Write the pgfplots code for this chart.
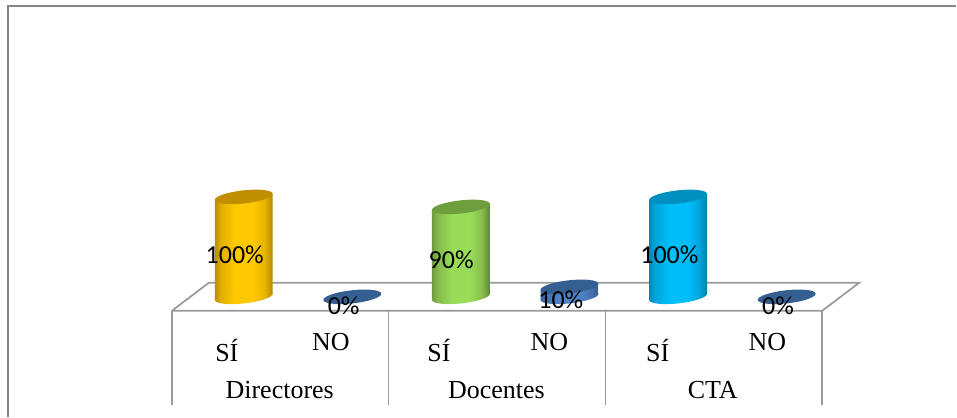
\documentclass[border=0pt]{standalone}
\usepackage{pgfplots}
\pgfplotsset{compat=1.18}
\usepackage{fontspec}
\setmainfont{Liberation Serif}
\newfontfamily\lab{Carlito}
\definecolor{framegray}{HTML}{868686}
\definecolor{floorgray}{HTML}{9A9A9A}
\definecolor{ga}{HTML}{B98F00}\definecolor{gb}{HTML}{E0AE00}\definecolor{gc}{HTML}{FFC800}\definecolor{gd}{HTML}{E8B400}\definecolor{ge}{HTML}{B08800}\definecolor{gt}{HTML}{C08F00}
\definecolor{va}{HTML}{6F9A3E}\definecolor{vb}{HTML}{84BA4A}\definecolor{vc}{HTML}{98DC58}\definecolor{vd}{HTML}{86BE4C}\definecolor{ve}{HTML}{5F8535}\definecolor{vt}{HTML}{6F9E3F}
\definecolor{ca}{HTML}{0088B8}\definecolor{cb}{HTML}{00A4DA}\definecolor{cc}{HTML}{00BEFA}\definecolor{cd}{HTML}{00A6DC}\definecolor{ce}{HTML}{0080AC}\definecolor{ct}{HTML}{008FBF}
\definecolor{ba}{HTML}{3A6296}\definecolor{bb}{HTML}{4474AE}\definecolor{bc}{HTML}{4F84C6}\definecolor{bd}{HTML}{4474AE}\definecolor{be}{HTML}{365B8C}\definecolor{bt}{HTML}{365F91}
\pgfdeclarehorizontalshading{goldsh}{100bp}{color(0bp)=(ga);color(25bp)=(ga);color(30bp)=(gb);color(42bp)=(gc);color(58bp)=(gc);color(68bp)=(gd);color(75bp)=(ge);color(100bp)=(ge)}
\pgfdeclarehorizontalshading{greensh}{100bp}{color(0bp)=(va);color(25bp)=(va);color(30bp)=(vb);color(42bp)=(vc);color(58bp)=(vc);color(68bp)=(vd);color(75bp)=(ve);color(100bp)=(ve)}
\pgfdeclarehorizontalshading{cyansh}{100bp}{color(0bp)=(ca);color(25bp)=(ca);color(30bp)=(cb);color(42bp)=(cc);color(58bp)=(cc);color(68bp)=(cd);color(75bp)=(ce);color(100bp)=(ce)}
\pgfdeclarehorizontalshading{bluesh}{100bp}{color(0bp)=(ba);color(25bp)=(ba);color(30bp)=(bb);color(42bp)=(bc);color(58bp)=(bc);color(68bp)=(bd);color(75bp)=(be);color(100bp)=(be)}
\newcommand\cylell[1]{\pgfpathellipse{\pgfpointorigin}{\pgfpoint{21.75pt}{2.4pt}}{\pgfpoint{-0.5pt}{4.9pt}}\pgfshadepath{#1}{0}\pgfusepath{discard}}
\pgfdeclareplotmark{botgold}{\cylell{goldsh}}
\pgfdeclareplotmark{botgreen}{\cylell{greensh}}
\pgfdeclareplotmark{botcyan}{\cylell{cyansh}}
\pgfdeclareplotmark{botblue}{\cylell{bluesh}}
\pgfdeclareplotmark{cyltop}{\pgfpathellipse{\pgfpointorigin}{\pgfpoint{21.75pt}{2.4pt}}{\pgfpoint{-0.5pt}{4.9pt}}\pgfusepathqfill}
\begin{document}
\begin{tikzpicture}[x=1pt,y=1pt]
% frame and floor on a pixel axis
\begin{axis}[at={(0pt,0pt)},anchor=south west,scale only axis,width=717.75pt,height=312.75pt,
  xmin=0,xmax=957,ymin=0,ymax=417,y dir=reverse,hide axis,clip=false]
\addplot[framegray,line width=1.5pt,forget plot] coordinates {(8.5,417) (8.5,5.5) (957,5.5)};
\addplot[floorgray,line width=1.3pt,forget plot] coordinates {(172,311) (209,283) (860,283) (823,311) (172,311)};
\addplot[floorgray,line width=1.3pt,forget plot] coordinates {(172,311) (172,405)};
\addplot[floorgray,line width=1.3pt,forget plot] coordinates {(389,311) (389,405)};
\addplot[floorgray,line width=1.3pt,forget plot] coordinates {(606,311) (606,405)};
\addplot[floorgray,line width=1.3pt,forget plot] coordinates {(823,311) (823,405)};
\node[anchor=base,font=\fontsize{19.5pt}{21pt}\selectfont] at (axis cs:280,398.5) {Directores};
\node[anchor=base,font=\fontsize{19.5pt}{21pt}\selectfont] at (axis cs:497,398.5) {Docentes};
\node[anchor=base,font=\fontsize{19.5pt}{21pt}\selectfont] at (axis cs:713.5,398.5) {CTA};
\end{axis}
% data axis: x = 0..5 at 244 + 108.7 i px, y = percent, 1 px per percent, 0 at 297 px
\begin{axis}[at={(0pt,0pt)},anchor=south west,scale only axis,width=717.75pt,height=312.75pt,
  xmin=-2.2447,xmax=6.5593,ymin=-120,ymax=297,clip=false,
  axis line style={draw=none},major tick length=0pt,ytick=\empty,
  xtick={-0.156,0.8026,1.798,2.815,3.813,4.822},
  xticklabels={SÍ,\raisebox{8.25pt}{NO},SÍ,\raisebox{8.25pt}{NO},SÍ,\raisebox{8.25pt}{NO}},
  xticklabel style={anchor=base,yshift=41.2pt,font=\fontsize{19.5pt}{21pt}\selectfont}]
\addplot[only marks,mark=botgold,forget plot] coordinates {(0,0)};
\addplot[only marks,mark=botgreen,forget plot] coordinates {(2,0)};
\addplot[only marks,mark=botcyan,forget plot] coordinates {(4,0)};
\addplot[only marks,mark=botblue,forget plot] coordinates {(3,0)};
% cylinder bodies: sides follow the tilt of the end ellipses (3.2 units either way)
\addplot[draw=none,shade,shading=goldsh,forget plot] coordinates {(-0.267,-3.2) (-0.267,96.8) (0.267,103.2) (0.267,3.2)} --cycle;
\addplot[draw=none,shade,shading=greensh,forget plot] coordinates {(1.733,-3.2) (1.733,86.8) (2.267,93.2) (2.267,3.2)} --cycle;
\addplot[draw=none,shade,shading=cyansh,forget plot] coordinates {(3.733,-3.2) (3.733,96.8) (4.267,103.2) (4.267,3.2)} --cycle;
\addplot[draw=none,shade,shading=bluesh,forget plot] coordinates {(2.733,-3.2) (2.733,6.8) (3.267,13.2) (3.267,3.2)} --cycle;
\addplot[only marks,mark=cyltop,color=gt,forget plot] coordinates {(0,100)};
\addplot[only marks,mark=cyltop,color=vt,forget plot] coordinates {(2,90)};
\addplot[only marks,mark=cyltop,color=ct,forget plot] coordinates {(4,100)};
\addplot[only marks,mark=cyltop,color=bt,forget plot] coordinates {(1,0) (3,10) (5,0)};
\end{axis}
% data labels on top of the cylinders
\begin{axis}[at={(0pt,0pt)},anchor=south west,scale only axis,width=717.75pt,height=312.75pt,
  xmin=-2.2447,xmax=6.5593,ymin=-120,ymax=297,clip=false,hide axis]
\tikzset{dl/.style={font=\lab\fontsize{19.5pt}{21pt}\selectfont,inner sep=0pt}}
\node[dl] at (axis cs:-0.083,42) {100\%};
\node[dl] at (axis cs:0.92,-9) {0\%};
\node[dl] at (axis cs:1.91,37) {90\%};
\node[dl] at (axis cs:2.92,-3) {10\%};
\node[dl] at (axis cs:3.92,42) {100\%};
\node[dl] at (axis cs:4.92,-9) {0\%};
\end{axis}
\end{tikzpicture}
\end{document}
